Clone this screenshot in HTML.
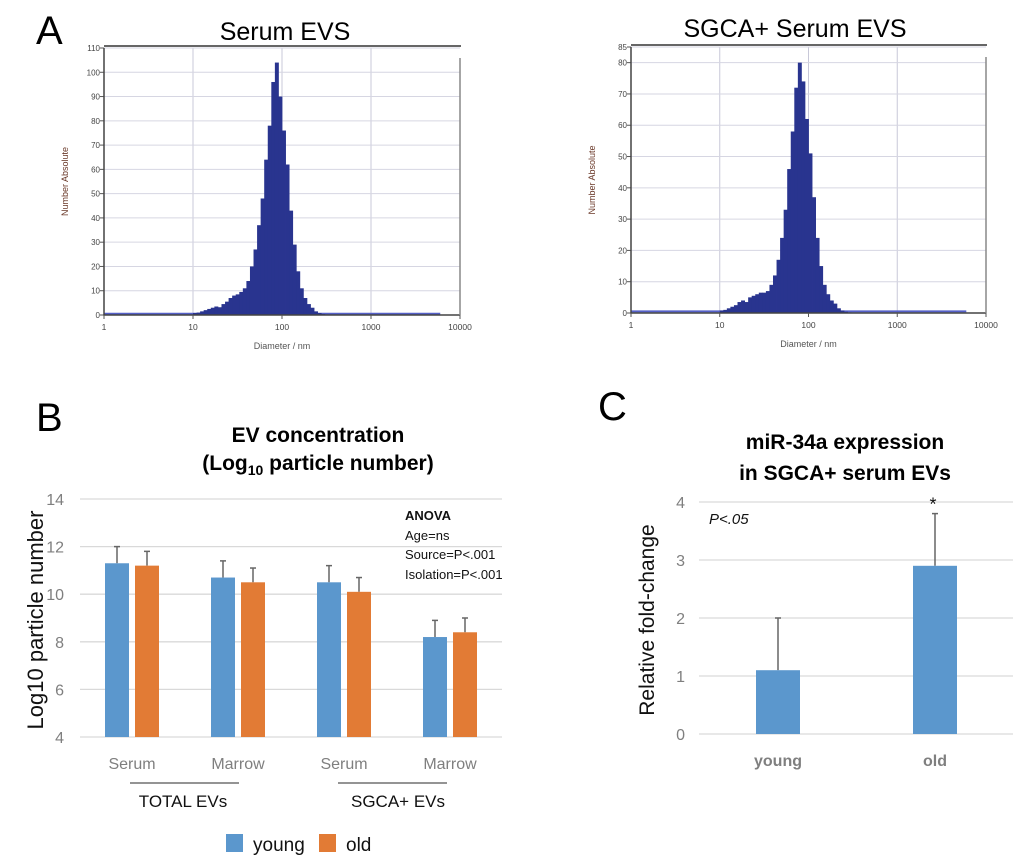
<!DOCTYPE html>
<html><head><meta charset="utf-8">
<style>
html,body{margin:0;padding:0;background:#fff;}
svg{display:block;font-family:"Liberation Sans",sans-serif;}
</style></head>
<body>
<svg id="fig" width="1020" height="865" viewBox="0 0 1020 865" xmlns="http://www.w3.org/2000/svg">
<rect width="1020" height="865" fill="#fff"/>
<text x="36" y="44" font-size="40">A</text>
<text x="36" y="431" font-size="40">B</text>
<text x="598" y="420" font-size="40">C</text>
<text x="285" y="40" font-size="25" text-anchor="middle">Serum EVS</text>
<text x="795" y="37" font-size="25" text-anchor="middle">SGCA+ Serum EVS</text>
<text x="318" y="442" font-size="21" font-weight="bold" text-anchor="middle">EV concentration</text>
<text x="318" y="470" font-size="21" font-weight="bold" text-anchor="middle">(Log<tspan font-size="14" dy="5">10</tspan><tspan dy="-5"> particle number)</tspan></text>
<text x="845" y="449" font-size="21" font-weight="bold" text-anchor="middle">miR-34a expression</text>
<text x="845" y="480" font-size="21" font-weight="bold" text-anchor="middle">in SGCA+ serum EVs</text>
<g id="histL"></g>
<g id="histR"></g>
<g id="chartB"></g>
<g id="chartC"></g>
</svg>
<script>
// Histogram data (log10 diameter bins starting at 10 nm, step 0.04)
const histLogStart = 1.0;
const histLogStep = 0.04;
const serumCounts = [0.8,1,1.5,2,2.5,3,3.5,3.2,4.5,5.5,7,8,8.5,9.5,11,14,20,27,37,48,64,78,96,104,90,76,62,43,29,18,11,7,4.5,3,1.5,0.8,0.4,0.2];
const sgcaCounts = [0.8,1,1.5,2,2.5,3.5,4,3.5,5,5.5,6,6.5,6.5,7,9,12,17,24,33,46,58,72,80,74,62,51,37,24,15,9,6,4,3,1.5,0.8,0.4,0.2,0.1];
const serumYTicks = [0,10,20,30,40,50,60,70,80,90,100,110];
const sgcaYTicks = [0,10,20,30,40,50,60,70,80,85];
const xDecadeLabels = ["1","10","100","1000","10000"];

// Panel B data
const bCategories = ["Serum","Marrow","Serum","Marrow"];
const bYoung = [11.3,10.7,10.5,8.2];
const bYoungErr = [0.7,0.7,0.7,0.7];
const bOld = [11.2,10.5,10.1,8.4];
const bOldErr = [0.6,0.6,0.6,0.6];
const bYTicks = [4,6,8,10,12,14];

// Panel C data
const cCategories = ["young","old"];
const cValues = [1.1,2.9];
const cErr = [0.9,0.9];
const cYTicks = [0,1,2,3,4];

const NS="http://www.w3.org/2000/svg";
function mk(parent, tag, attrs, text){
  const e=document.createElementNS(NS,tag);
  for(const k in attrs) e.setAttribute(k,attrs[k]);
  if(text!==undefined) e.textContent=text;
  parent.appendChild(e); return e;
}

function histogram(gid, counts, yTicks, yMax, x0, x1, yBottom, yTop, nameP){
  const g=document.getElementById(gid);
  const xs=v=>x0+(v/4)*(x1-x0);
  const ys=v=>yBottom-(v/yMax)*(yBottom-yTop);
  for(let d=1; d<4; d++){
    const gl=mk(g,'line',{x1:xs(d),x2:xs(d),y1:yTop,y2:yBottom,stroke:'#c8c8d8','stroke-width':1});
    
    
  }
  yTicks.forEach(t=>{
    const gl=mk(g,'line',{x1:x0,x2:x1,y1:ys(t),y2:ys(t),stroke:'#d6d6e2','stroke-width':1});
    
    
    const tk=mk(g,'line',{x1:x0-4,x2:x0,y1:ys(t),y2:ys(t),stroke:'#555','stroke-width':1});
    
    
    const tl=mk(g,'text',{x:x0-4,y:ys(t)+3,'font-size':8,'text-anchor':'end',fill:'#444'},String(t));
    
    
  });
  const bl=mk(g,'line',{x1:xs(0),x2:xs(Math.log10(6000)),y1:ys(0.5),y2:ys(0.5),stroke:'#5560c8','stroke-width':2});
  
  
  counts.forEach((c,i)=>{
    const lo=histLogStart+i*histLogStep, hi=lo+histLogStep;
    const r=mk(g,'rect',{x:xs(lo),y:ys(c),width:xs(hi)-xs(lo)+0.4,height:yBottom-ys(c),fill:'#29348f'});
    
    
  });
  const ax=mk(g,'path',{d:`M${x0},${yTop} V${yBottom} H${x1}`,stroke:'#444',fill:'none','stroke-width':1.5});
  
  
  const tb=mk(g,'line',{x1:x0,x2:x1+1,y1:yTop-2,y2:yTop-2,stroke:'#333','stroke-width':1.5});
  
  
  const rb=mk(g,'line',{x1:x1,x2:x1,y1:yTop+10,y2:yBottom,stroke:'#888','stroke-width':1.5});
  
  
  xDecadeLabels.forEach((l,i)=>{
    const tk=mk(g,'line',{x1:xs(i),x2:xs(i),y1:yBottom,y2:yBottom+4,stroke:'#555'});
    
    
    const tl=mk(g,'text',{x:xs(i),y:yBottom+15,'font-size':8.5,'text-anchor':'middle',fill:'#444'},l);
    
    
  });
  const xt=mk(g,'text',{x:(x0+x1)/2,y:yBottom+34,'font-size':9,'text-anchor':'middle',fill:'#555'},'Diameter / nm');
  
  
  const yc=(yTop+yBottom)/2;
  const yt=mk(g,'text',{x:x0-36,y:yc,'font-size':9,'text-anchor':'middle',fill:'#6b3a2a',transform:`rotate(-90 ${x0-36} ${yc})`},'Number Absolute');
  
  
}
histogram('histL', serumCounts, serumYTicks, 110, 104, 460, 315, 48, 'serum-hist');
histogram('histR', sgcaCounts, sgcaYTicks, 85, 631, 986, 313, 47, 'sgca-hist');

// Panel B
(function(){
  const g=document.getElementById('chartB');
  const x0=80,x1=502,yB=737,yT=499,ymin=4,ymax=14;
  const ys=v=>yB-(v-ymin)/(ymax-ymin)*(yB-yT);
  const groupW=106, firstC=132;
  const cx=i=>firstC+i*groupW;
  bYTicks.forEach(t=>{
    const gl=mk(g,'line',{x1:x0,x2:x1,y1:ys(t),y2:ys(t),stroke:'#d9d9d9','stroke-width':1.3});
    
    
    const tl=mk(g,'text',{x:64,y:ys(t)+6,'font-size':16,'text-anchor':'end',fill:'#7f7f7f'},String(t));
    
    
  });
  const series=[[bYoung,bYoungErr,'#5b97cd',-15],[bOld,bOldErr,'#e27b35',15]];
  series.forEach(([vals,errs,col,off],si)=>{
    vals.forEach((v,i)=>{
      const x=cx(i)+off;
      const el=mk(g,'line',{x1:x,x2:x,y1:ys(v),y2:ys(v+errs[i]),stroke:'#666','stroke-width':1.5});
      
      
      const cap=mk(g,'line',{x1:x-3,x2:x+3,y1:ys(v+errs[i]),y2:ys(v+errs[i]),stroke:'#666','stroke-width':1.5});
      
      
      const r=mk(g,'rect',{x:x-12,y:ys(v),width:24,height:yB-ys(v),fill:col});
      
      
    });
  });
  bCategories.forEach((c,i)=>{
    const t=mk(g,'text',{x:cx(i),y:769,'font-size':16,'text-anchor':'middle',fill:'#7f7f7f'},c);
    
    
  });
  [[130,239,'TOTAL EVs',183],[338,447,'SGCA+ EVs',398]].forEach(([a,b,l,c])=>{
    const ln=mk(g,'line',{x1:a,x2:b,y1:783,y2:783,stroke:'#555','stroke-width':1.3});
    
    
    const t=mk(g,'text',{x:c,y:807,'font-size':17,'text-anchor':'middle',fill:'#111'},l);
    
    
  });
  const yt=mk(g,'text',{x:43,y:620,'font-size':22,'text-anchor':'middle',fill:'#111',transform:'rotate(-90 43 620)'},'Log10 particle number');
  
  
  const an=[['ANOVA',520,'bold'],['Age=ns',540,'normal'],['Source=P<.001',559,'normal'],['Isolation=P<.001',579,'normal']];
  an.forEach(([l,y,w])=>{
    const t=mk(g,'text',{x:405,y:y,'font-size':13,'font-weight':w,fill:'#111'},l);
    
    
  });
  const lg=[['#5b97cd',226,'young'],['#e27b35',319,'old']];
  lg.forEach(([c,x,l])=>{
    const r=mk(g,'rect',{x:x,y:834,width:17,height:18,fill:c});
    
    
    const t=mk(g,'text',{x:x+27,y:851,'font-size':19,fill:'#111'},l);
    
    
  });
})();

// Panel C
(function(){
  const g=document.getElementById('chartC');
  const x0=699,x1=1013,yB=734,yT=502,ymax=4;
  const ys=v=>yB-(v/ymax)*(yB-yT);
  const cx=i=>778+i*157;
  cYTicks.forEach(t=>{
    const gl=mk(g,'line',{x1:x0,x2:x1,y1:ys(t),y2:ys(t),stroke:'#d9d9d9','stroke-width':1.3});
    
    
    const tl=mk(g,'text',{x:685,y:ys(t)+6,'font-size':16,'text-anchor':'end',fill:'#7f7f7f'},String(t));
    
    
  });
  cValues.forEach((v,i)=>{
    const x=cx(i);
    const el=mk(g,'line',{x1:x,x2:x,y1:ys(v),y2:ys(v+cErr[i]),stroke:'#666','stroke-width':1.5});
    
    
    const cap=mk(g,'line',{x1:x-3,x2:x+3,y1:ys(v+cErr[i]),y2:ys(v+cErr[i]),stroke:'#666','stroke-width':1.5});
    
    
    const r=mk(g,'rect',{x:x-22,y:ys(v),width:44,height:yB-ys(v),fill:'#5b97cd'});
    
    
    const t=mk(g,'text',{x:x,y:766,'font-size':16,'font-weight':'bold','text-anchor':'middle',fill:'#7f7f7f'},cCategories[i]);
    
    
  });
  const st=mk(g,'text',{x:cx(1)-2,y:ys(cValues[1]+cErr[1])-3,'font-size':18,'text-anchor':'middle',fill:'#111'},'*');
  
  
  const p=mk(g,'text',{x:709,y:524,'font-size':15,'font-style':'italic',fill:'#111'},'P<.05');
  
  
  const yt=mk(g,'text',{x:654,y:620,'font-size':21,'text-anchor':'middle',fill:'#111',transform:'rotate(-90 654 620)'},'Relative fold-change');
  
  
})();
</script>
</body></html>
